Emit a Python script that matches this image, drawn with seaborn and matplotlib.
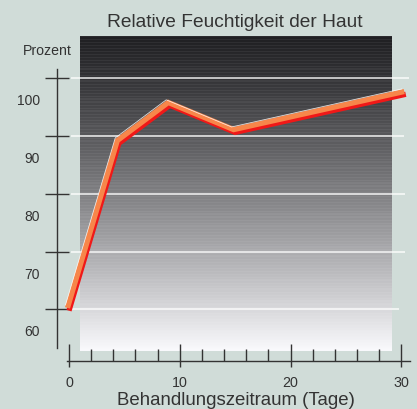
import numpy as np
import seaborn as sns
import matplotlib.pyplot as plt
import matplotlib.patheffects as pe
from matplotlib.ticker import MultipleLocator, FixedLocator, NullFormatter

# values
days = [0, 4.5, 9.1, 15.0, 30.4]
moisture = [63.3, 92.3, 98.9, 94.2, 100.8]

y_labels = [60, 70, 80, 90, 100]
grid_levels = [63.55, 73.55, 83.55, 93.55, 103.55]
grid_ends = [29.8, 30.3, 30.3, 30.2, 30.7]
x_major = [0, 10, 20, 30]

title = "Relative Feuchtigkeit der Haut"
xlabel = "Behandlungszeitraum (Tage)"
ylabel = "Prozent"

sns.set_style("white")
plt.rcParams['font.family'] = ['Liberation Sans', 'DejaVu Sans']

bg = '#d0dcd8'
ink = '#333333'

fig = plt.figure(figsize=(4.17, 4.10), dpi=100, facecolor=bg)
ax = fig.add_axes([57/417, 48/410, 353/417, 325/410])
ax.set_facecolor('none')

# striped dark-to-white panel behind the line
rows = 315
t = np.linspace(0, 1, rows)
shade = 0.15 + 0.83 * t ** 1.2
shade = shade + 0.025 * np.sign(np.sin(np.arange(rows) * 2 * np.pi / 3.0)) * (1 - t)
panel = np.clip(np.stack([shade, shade, shade + 0.012], axis=-1), 0, 1)[:, None, :]
ax.imshow(panel, extent=(0.99, 29.15, 56.31, 110.9), aspect='auto',
          interpolation='nearest', zorder=0)

ax.hlines(grid_levels, 0.18, grid_ends, colors='white', lw=1.1, alpha=0.9, zorder=1)

sns.lineplot(x=days, y=moisture, ax=ax, color='#f01818', lw=3.8, sort=False, zorder=3)
line = ax.lines[-1]
line.set_solid_joinstyle('miter')
line.set_solid_capstyle('butt')
line.set_path_effects([
    pe.Normal(),
    pe.SimpleLineShadow(offset=(-1.1, 2.0), shadow_color='#f7864a', alpha=1),
    pe.SimpleLineShadow(offset=(-2.6, 3.9), shadow_color='white', alpha=0.85, linewidth=0.55),
])

ax.set_xlim(-1.083, 30.78)
ax.set_ylim(54.58, 110.9)

for s in ['top', 'right']:
    ax.spines[s].set_visible(False)
for s in ['left', 'bottom']:
    ax.spines[s].set_color(ink)
    ax.spines[s].set_linewidth(1)
ax.spines['left'].set_bounds(56.83, 105.18)
ax.spines['bottom'].set_bounds(-0.18, 30.78)

ax.tick_params(which='both', left=True, bottom=True)
ax.yaxis.set_major_locator(FixedLocator(grid_levels))
ax.yaxis.set_major_formatter(NullFormatter())
ax.set_yticks(y_labels, labels=[str(v) for v in y_labels], minor=True)
ax.tick_params(axis='y', which='major', direction='inout', length=17.3, width=1, color=ink)
ax.tick_params(axis='y', which='minor', length=0, pad=12.2, labelsize=10, labelcolor=ink)

ax.set_xticks(x_major)
ax.xaxis.set_minor_locator(MultipleLocator(2))
ax.tick_params(axis='x', which='major', direction='in', length=12.2, width=1, color=ink,
               pad=10.4, labelsize=10.3, labelcolor=ink)
ax.tick_params(axis='x', which='minor', direction='in', length=8.6, width=1, color=ink)
ax.vlines(x_major, 0, -6/325, transform=ax.get_xaxis_transform(), colors=ink, lw=1, clip_on=False)

fig.text(235/417, 1 - 27/410, title, ha='center', va='baseline', fontsize=13.8, color=ink)
fig.text(23/417, 1 - 55/410, ylabel, ha='left', va='baseline', fontsize=10.2, color=ink)
fig.text(236/417, 1 - 405/410, xlabel, ha='center', va='baseline', fontsize=13.4, color=ink)

fig.savefig('out.png', dpi=100, facecolor=bg)
